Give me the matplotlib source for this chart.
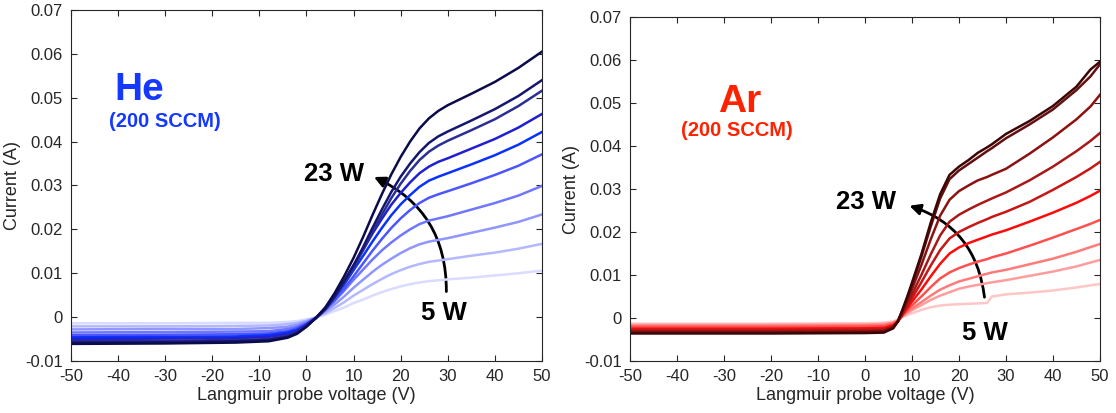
import matplotlib.pyplot as plt
from matplotlib.patches import FancyArrowPatch

plt.rcParams['font.family'] = ['Liberation Sans', 'DejaVu Sans']

# probe voltage grids (V)
v_he = [-50, -30, -15, -8, -4, -2, 0, 2, 4, 6, 8, 10, 12, 14, 16, 18, 20,
        22, 24, 26, 28, 30, 35, 40, 45, 50]
v_ar = [-50, -20, 0, 4, 6, 7, 8, 9, 10, 12, 14, 16, 18, 20, 22, 24, 26, 27,
        30, 35, 40, 45, 48, 50]

# He probe current (A), 23 W down to 5 W
he_23w = [-0.0061, -0.0060, -0.0058, -0.0055, -0.0047, -0.0038, -0.0022, -0.0002,
          0.0022, 0.0055, 0.0093, 0.0135, 0.0182, 0.0232, 0.0280, 0.0325, 0.0365,
          0.0400, 0.0430, 0.0453, 0.0470, 0.0483, 0.0509, 0.0536, 0.0568, 0.0605]
he_21w = [-0.0058, -0.0057, -0.0055, -0.0052, -0.0045, -0.0036, -0.0021, -0.0002,
          0.0019, 0.0048, 0.0082, 0.0118, 0.0159, 0.0203, 0.0245, 0.0285, 0.0320,
          0.0350, 0.0376, 0.0397, 0.0412, 0.0423, 0.0448, 0.0474, 0.0504, 0.0540]
he_19w = [-0.0055, -0.0054, -0.0052, -0.0050, -0.0042, -0.0034, -0.0020, -0.0002,
          0.0018, 0.0046, 0.0078, 0.0113, 0.0152, 0.0193, 0.0233, 0.0271, 0.0304,
          0.0333, 0.0358, 0.0377, 0.0391, 0.0402, 0.0426, 0.0451, 0.0481, 0.0516]
he_17w = [-0.0050, -0.0049, -0.0048, -0.0045, -0.0039, -0.0031, -0.0018, -0.0002,
          0.0021, 0.0050, 0.0082, 0.0118, 0.0153, 0.0190, 0.0224, 0.0256, 0.0283,
          0.0307, 0.0328, 0.0343, 0.0354, 0.0362, 0.0384, 0.0406, 0.0432, 0.0463]
he_15w = [-0.0046, -0.0045, -0.0044, -0.0041, -0.0035, -0.0029, -0.0017, -0.0002,
          0.0019, 0.0045, 0.0074, 0.0107, 0.0139, 0.0172, 0.0203, 0.0232, 0.0257,
          0.0278, 0.0297, 0.0311, 0.0320, 0.0328, 0.0348, 0.0369, 0.0393, 0.0422]
he_13w = [-0.0041, -0.0040, -0.0039, -0.0037, -0.0032, -0.0025, -0.0015, -0.0002,
          0.0017, 0.0039, 0.0065, 0.0093, 0.0122, 0.0151, 0.0178, 0.0203, 0.0225,
          0.0244, 0.0260, 0.0272, 0.0280, 0.0287, 0.0305, 0.0324, 0.0345, 0.0371]
he_11w = [-0.0035, -0.0034, -0.0033, -0.0032, -0.0027, -0.0022, -0.0013, -0.0001,
          0.0016, 0.0037, 0.0060, 0.0085, 0.0108, 0.0131, 0.0152, 0.0170, 0.0186,
          0.0200, 0.0212, 0.0220, 0.0225, 0.0230, 0.0245, 0.0260, 0.0277, 0.0299]
he_9w = [-0.0028, -0.0027, -0.0027, -0.0025, -0.0022, -0.0017, -0.0010, -0.0001,
         0.0013, 0.0029, 0.0047, 0.0067, 0.0085, 0.0103, 0.0119, 0.0133, 0.0146,
         0.0157, 0.0166, 0.0172, 0.0176, 0.0180, 0.0192, 0.0204, 0.0217, 0.0234]
he_7w = [-0.0021, -0.0021, -0.0020, -0.0019, -0.0016, -0.0013, -0.0008, -0.0001,
         0.0009, 0.0021, 0.0034, 0.0049, 0.0062, 0.0075, 0.0087, 0.0098, 0.0107,
         0.0115, 0.0121, 0.0126, 0.0129, 0.0132, 0.0140, 0.0147, 0.0156, 0.0167]
he_5w = [-0.0014, -0.0014, -0.0013, -0.0013, -0.0011, -0.0009, -0.0005, -0.0001,
         0.0006, 0.0014, 0.0022, 0.0032, 0.0040, 0.0049, 0.0057, 0.0064, 0.0070,
         0.0075, 0.0079, 0.0082, 0.0084, 0.0086, 0.0090, 0.0095, 0.0100, 0.0106]

# Ar probe current (A), 23 W down to 5 W
ar_23w = [-0.0036, -0.0036, -0.0035, -0.0034, -0.0024, -0.0008, 0.0020, 0.0050,
          0.0082, 0.0148, 0.0222, 0.0288, 0.0333, 0.0352, 0.0367, 0.0384, 0.0397,
          0.0404, 0.0428, 0.0458, 0.0493, 0.0538, 0.0578, 0.0596]
ar_21w = [-0.0034, -0.0034, -0.0033, -0.0032, -0.0023, -0.0008, 0.0018, 0.0046,
          0.0077, 0.0142, 0.0213, 0.0278, 0.0323, 0.0343, 0.0358, 0.0373, 0.0388,
          0.0395, 0.0418, 0.0450, 0.0485, 0.0530, 0.0562, 0.0590]
ar_19w = [-0.0032, -0.0032, -0.0031, -0.0030, -0.0021, -0.0008, 0.0015, 0.0040,
          0.0067, 0.0123, 0.0183, 0.0238, 0.0275, 0.0295, 0.0308, 0.0320, 0.0328,
          0.0333, 0.0347, 0.0382, 0.0420, 0.0462, 0.0492, 0.0519]
ar_17w = [-0.0030, -0.0030, -0.0029, -0.0028, -0.0020, -0.0008, 0.0012, 0.0033,
          0.0055, 0.0100, 0.0148, 0.0192, 0.0224, 0.0240, 0.0252, 0.0263, 0.0273,
          0.0278, 0.0292, 0.0320, 0.0352, 0.0388, 0.0412, 0.0430]
ar_15w = [-0.0028, -0.0028, -0.0027, -0.0026, -0.0019, -0.0008, 0.0010, 0.0028,
          0.0046, 0.0083, 0.0122, 0.0158, 0.0185, 0.0200, 0.0211, 0.0221, 0.0230,
          0.0235, 0.0247, 0.0270, 0.0298, 0.0328, 0.0348, 0.0363]
ar_13w = [-0.0025, -0.0025, -0.0024, -0.0023, -0.0017, -0.0008, 0.0008, 0.0023,
          0.0038, 0.0066, 0.0097, 0.0126, 0.0150, 0.0164, 0.0174, 0.0182, 0.0190,
          0.0194, 0.0204, 0.0224, 0.0245, 0.0268, 0.0284, 0.0296]
ar_11w = [-0.0021, -0.0021, -0.0020, -0.0019, -0.0014, -0.0007, 0.0006, 0.0018,
          0.0029, 0.0050, 0.0072, 0.0092, 0.0106, 0.0116, 0.0124, 0.0131, 0.0137,
          0.0141, 0.0150, 0.0168, 0.0187, 0.0207, 0.0219, 0.0228]
ar_9w = [-0.0018, -0.0018, -0.0017, -0.0016, -0.0012, -0.0006, 0.0005, 0.0014,
         0.0022, 0.0037, 0.0052, 0.0066, 0.0076, 0.0085, 0.0091, 0.0097, 0.0103,
         0.0106, 0.0112, 0.0125, 0.0138, 0.0154, 0.0165, 0.0172]
ar_7w = [-0.0016, -0.0016, -0.0015, -0.0014, -0.0010, -0.0005, 0.0004, 0.0011,
         0.0018, 0.0030, 0.0042, 0.0052, 0.0060, 0.0068, 0.0073, 0.0077, 0.0081,
         0.0083, 0.0088, 0.0098, 0.0108, 0.0120, 0.0129, 0.0135]
ar_5w = [-0.0013, -0.0013, -0.0012, -0.0011, -0.0008, -0.0004, 0.0002, 0.0007,
         0.0011, 0.0019, 0.0025, 0.0029, 0.0031, 0.0032, 0.0033, 0.0034, 0.0035,
         0.0050, 0.0055, 0.0059, 0.0064, 0.0071, 0.0076, 0.0079]

he_curves = [he_23w, he_21w, he_19w, he_17w, he_15w, he_13w, he_11w, he_9w, he_7w, he_5w]
ar_curves = [ar_23w, ar_21w, ar_19w, ar_17w, ar_15w, ar_13w, ar_11w, ar_9w, ar_7w, ar_5w]

he_colors = ['#0b0b4c', '#15166e', '#2b2f94', '#2020d2', '#0a32ff',
             '#4c55ff', '#6f77ff', '#8f96ff', '#b3b8ff', '#d9dcff']
ar_colors = ['#3e0505', '#621010', '#8c1212', '#a81818', '#c81515',
             '#ff0a0a', '#ff5050', '#ff7a7a', '#ff9d9d', '#ffc6c6']

xticks = list(range(-50, 51, 10))
yticks = [-0.01, 0, 0.01, 0.02, 0.03, 0.04, 0.05, 0.06, 0.07]
ytick_labels = ['-0.01', '0', '0.01', '0.02', '0.03', '0.04', '0.05', '0.06', '0.07']

fig = plt.figure(figsize=(11.16, 4.13), dpi=100)
ax_he = fig.add_axes([0.0636, 0.1259, 0.4220, 0.8499])
ax_ar = fig.add_axes([0.5645, 0.1259, 0.4211, 0.8329])


def style_axes(ax):
    ax.set_xlim(-50, 50)
    ax.set_ylim(-0.01, 0.07)
    ax.set_xticks(xticks)
    ax.set_xticklabels([str(t) for t in xticks])
    ax.set_yticks(yticks)
    ax.set_yticklabels(ytick_labels)
    ax.tick_params(direction='in', top=True, right=True, length=4, width=0.8,
                   labelsize=12, colors='#262626', pad=6)
    for sp in ax.spines.values():
        sp.set_color('#262626')
        sp.set_linewidth(0.8)
    ax.set_xlabel('Langmuir probe voltage (V)', fontsize=13, color='#262626', labelpad=2)
    ax.set_ylabel('Current (A)', fontsize=13, color='#262626', labelpad=3)


# 5 W drawn first so the high-power traces sit on top
for vals, col in zip(he_curves[::-1], he_colors[::-1]):
    ax_he.plot(v_he, vals, color=col, lw=1.8, solid_joinstyle='round')
for vals, col in zip(ar_curves[::-1], ar_colors[::-1]):
    ax_ar.plot(v_ar, vals, color=col, lw=1.8, solid_joinstyle='round')

style_axes(ax_he)
style_axes(ax_ar)

# gas labels
ax_he.text(-35.4, 0.0518, 'He', color='#1438ff', fontsize=28, fontweight='bold',
           ha='center', va='center')
ax_he.text(-30.1, 0.0445, '(200 SCCM)', color='#1438ff', fontsize=14.5, fontweight='bold',
           ha='center', va='center')
ax_ar.text(-26.6, 0.0502, 'Ar', color='#ff2200', fontsize=28, fontweight='bold',
           ha='center', va='center')
ax_ar.text(-27.2, 0.0437, '(200 SCCM)', color='#ff2200', fontsize=14.5, fontweight='bold',
           ha='center', va='center')

# power sweep arrows
ax_he.text(5.9, 0.0327, '23 W', fontsize=18.5, fontweight='bold', ha='center', va='center')
ax_he.text(29.2, 0.0009, '5 W', fontsize=18.5, fontweight='bold', ha='center', va='center')
ax_he.add_patch(FancyArrowPatch((29.7, 0.0052), (13.8, 0.0322),
                                connectionstyle='arc3,rad=0.33', arrowstyle='-|>',
                                mutation_scale=16, lw=2, color='black'))
ax_ar.text(0.2, 0.0270, '23 W', fontsize=18.5, fontweight='bold', ha='center', va='center')
ax_ar.text(25.5, -0.0035, '5 W', fontsize=18.5, fontweight='bold', ha='center', va='center')
ax_ar.add_patch(FancyArrowPatch((25.5, 0.0042), (8.9, 0.0263),
                                connectionstyle='arc3,rad=0.33', arrowstyle='-|>',
                                mutation_scale=16, lw=2, color='black'))

fig.savefig('out.png', dpi=100)
